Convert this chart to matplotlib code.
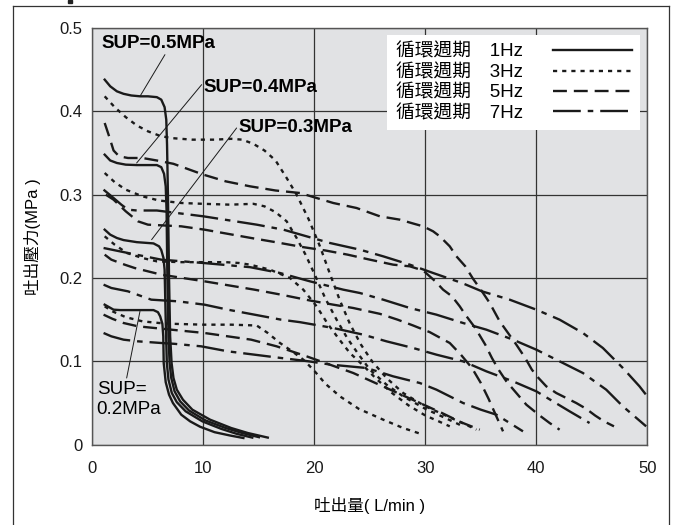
import matplotlib
matplotlib.use('Agg')
import matplotlib.pyplot as plt
from matplotlib.lines import Line2D
from matplotlib.patches import Rectangle

#fonts: latin text in an Arial-like face, chinese falls back to Noto CJK
plt.rcParams['font.family'] = ['Liberation Sans', 'Noto Sans CJK TC']
plt.rcParams['lines.scale_dashes'] = False

#cycle frequencies (legend) and supply pressures (annotations)
freq_labels = ['1Hz', '3Hz', '5Hz', '7Hz']
sup_labels = ['SUP=0.5MPa', 'SUP=0.4MPa', 'SUP=0.3MPa', 'SUP=\n0.2MPa']

#discharge flow (L/min) and discharge pressure (MPa)
#1Hz (solid)
flow_05_1hz = [1.1, 1.6, 2.2, 2.8, 3.5, 4.3, 5.0, 5.8, 6.2, 6.5, 6.65, 6.72, 6.8, 6.9, 7.0, 7.13, 7.3, 7.6, 8.15, 9.0, 10.6, 12.5, 14.0, 15.8]
pres_05_1hz = [0.438, 0.430, 0.424, 0.421, 0.419, 0.418, 0.418, 0.417, 0.414, 0.405, 0.39, 0.36, 0.30, 0.20, 0.13, 0.098, 0.08, 0.066, 0.054, 0.042, 0.030, 0.020, 0.014, 0.0085]
flow_04_1hz = [1.1, 1.6, 2.2, 3.0, 4.0, 5.0, 5.8, 6.2, 6.45, 6.6, 6.68, 6.75, 6.85, 6.95, 7.1, 7.4, 7.9, 8.7, 10.2, 12.0, 13.5, 15.0]
pres_04_1hz = [0.348, 0.341, 0.338, 0.336, 0.3355, 0.3355, 0.3355, 0.333, 0.325, 0.31, 0.28, 0.20, 0.13, 0.098, 0.08, 0.064, 0.052, 0.041, 0.029, 0.020, 0.014, 0.009]
flow_03_1hz = [1.1, 1.6, 2.2, 2.8, 4.0, 5.5, 6.0, 6.2, 6.4, 6.5, 6.6, 6.7, 6.85, 7.15, 7.6, 8.4, 9.9, 11.6, 13.0, 14.4]
pres_03_1hz = [0.258, 0.252, 0.248, 0.2455, 0.243, 0.2415, 0.238, 0.2335, 0.224, 0.21, 0.15, 0.098, 0.078, 0.062, 0.051, 0.040, 0.028, 0.019, 0.013, 0.0085]
flow_02_1hz = [1.1, 1.5, 1.9, 2.5, 3.5, 4.5, 5.5, 5.9, 6.1, 6.3, 6.38, 6.42, 6.6, 6.9, 7.25, 8.0, 8.8, 9.7, 11.0, 12.4, 13.6]
pres_02_1hz = [0.168, 0.165, 0.162, 0.1615, 0.1615, 0.1615, 0.1615, 0.159, 0.154, 0.145, 0.13, 0.098, 0.075, 0.060, 0.050, 0.036, 0.028, 0.0215, 0.015, 0.011, 0.008]

#3Hz (dotted)
flow_05_3hz = [1.1, 2.0, 3.0, 4.0, 5.0, 6.0, 7.0, 9.0, 11.0, 12.5, 13.5, 14.5, 15.5, 16.5, 17.5, 18.4, 19.5, 20.5, 21.4, 22.3, 23.2, 24.2, 25.2, 26.5, 28.0, 30.0, 32.0, 33.5, 34.6]
pres_05_3hz = [0.418, 0.405, 0.393, 0.383, 0.376, 0.371, 0.368, 0.366, 0.366, 0.367, 0.366, 0.361, 0.353, 0.341, 0.32, 0.30, 0.27, 0.238, 0.205, 0.173, 0.145, 0.12, 0.10, 0.08, 0.062, 0.046, 0.034, 0.025, 0.018]
flow_04_3hz = [1.1, 2.0, 3.0, 4.5, 6.0, 8.0, 10.0, 12.4, 14.5, 15.5, 16.5, 17.5, 18.4, 19.2, 20.0, 21.0, 22.0, 23.0, 24.0, 25.0, 26.5, 28.0, 30.0, 31.8, 33.4]
pres_04_3hz = [0.326, 0.315, 0.306, 0.298, 0.293, 0.290, 0.289, 0.288, 0.289, 0.286, 0.279, 0.268, 0.248, 0.228, 0.205, 0.175, 0.15, 0.127, 0.108, 0.09, 0.072, 0.058, 0.043, 0.032, 0.022]
flow_03_3hz = [1.1, 2.0, 3.1, 4.5, 5.8, 8.0, 10.0, 12.0, 13.2, 14.2, 16.0, 17.8, 19.0, 20.2, 21.2, 22.2, 23.2, 24.4, 25.5, 27.0, 28.5, 30.0, 31.2, 32.2]
pres_03_3hz = [0.25, 0.24, 0.23, 0.224, 0.22, 0.219, 0.219, 0.219, 0.218, 0.216, 0.21, 0.20, 0.186, 0.166, 0.145, 0.127, 0.11, 0.095, 0.08, 0.062, 0.047, 0.035, 0.028, 0.022]
flow_02_3hz = [1.1, 1.8, 3.0, 4.5, 6.0, 7.3, 10.0, 12.5, 14.8, 15.8, 16.9, 18.0, 19.0, 19.9, 21.0, 22.3, 24.0, 26.2, 28.0, 29.8]
pres_02_3hz = [0.166, 0.16, 0.153, 0.148, 0.146, 0.145, 0.144, 0.144, 0.143, 0.134, 0.122, 0.112, 0.102, 0.09, 0.073, 0.058, 0.043, 0.03, 0.02, 0.012]

#5Hz (dashed)
flow_05_5hz = [1.1, 1.5, 1.9, 2.4, 3.2, 4.5, 5.8, 7.3, 10.0, 12.0, 14.2, 16.5, 18.7, 21.7, 23.8, 25.9, 27.7, 29.0, 29.8, 30.7, 31.3, 32.2, 32.8, 33.6, 34.3, 35.0, 35.8, 36.7, 37.4, 38.2, 39.0, 39.6, 40.2, 40.9, 41.8, 42.7, 43.6, 44.5, 45.3, 46.1, 47.0]
pres_05_5hz = [0.386, 0.37, 0.353, 0.346, 0.344, 0.344, 0.341, 0.337, 0.324, 0.316, 0.31, 0.305, 0.302, 0.29, 0.284, 0.274, 0.27, 0.265, 0.262, 0.256, 0.25, 0.238, 0.226, 0.214, 0.199, 0.186, 0.17, 0.148, 0.135, 0.12, 0.104, 0.09, 0.08, 0.07, 0.062, 0.056, 0.05, 0.043, 0.035, 0.028, 0.022]
flow_04_5hz = [1.2, 1.9, 3.0, 4.1, 5.0, 8.0, 10.1, 12.2, 14.3, 16.5, 19.0, 21.0, 23.0, 25.0, 27.1, 28.6, 29.8, 30.9, 31.6, 32.4, 33.1, 33.6, 34.5, 35.4, 36.0, 36.6, 37.3, 38.2, 39.1, 40.3, 41.2, 42.1]
pres_04_5hz = [0.30, 0.294, 0.28, 0.268, 0.264, 0.262, 0.258, 0.253, 0.248, 0.243, 0.237, 0.233, 0.228, 0.222, 0.216, 0.214, 0.209, 0.196, 0.186, 0.178, 0.166, 0.156, 0.14, 0.12, 0.104, 0.09, 0.076, 0.062, 0.048, 0.035, 0.026, 0.018]
flow_03_5hz = [1.1, 1.7, 2.9, 3.8, 6.2, 10.1, 14.6, 17.0, 19.6, 21.7, 23.5, 25.9, 27.5, 28.9, 30.4, 32.2, 33.2, 34.2, 35.0, 35.7, 36.3, 37.0]
pres_03_5hz = [0.228, 0.222, 0.216, 0.212, 0.204, 0.196, 0.186, 0.18, 0.173, 0.168, 0.164, 0.157, 0.15, 0.143, 0.135, 0.122, 0.108, 0.092, 0.074, 0.055, 0.037, 0.016]
flow_02_5hz = [1.0, 1.8, 2.8, 4.1, 7.1, 10.1, 12.2, 14.3, 16.6, 19.3, 21.4, 23.5, 25.5, 27.5, 29.5, 31.5, 33.2, 34.9]
pres_02_5hz = [0.156, 0.151, 0.146, 0.142, 0.138, 0.134, 0.130, 0.126, 0.118, 0.106, 0.096, 0.086, 0.074, 0.062, 0.050, 0.038, 0.027, 0.018]

#7Hz (dash-dot)
flow_05_7hz = [1.0, 1.9, 2.6, 3.2, 4.0, 5.8, 7.6, 10.0, 12.4, 14.8, 17.2, 19.3, 21.4, 24.1, 26.2, 28.6, 30.7, 33.3, 35.1, 37.6, 40.0, 42.1, 44.2, 46.0, 47.8, 49.3, 50.0]
pres_05_7hz = [0.306, 0.296, 0.288, 0.282, 0.281, 0.281, 0.278, 0.274, 0.269, 0.264, 0.258, 0.25, 0.242, 0.234, 0.226, 0.216, 0.206, 0.194, 0.184, 0.174, 0.162, 0.15, 0.134, 0.116, 0.092, 0.07, 0.058]
flow_04_7hz = [1.0, 3.2, 6.2, 10.0, 14.2, 16.9, 19.6, 22.6, 24.1, 26.2, 28.6, 31.0, 33.4, 35.5, 37.9, 40.0, 42.1, 44.2, 46.3, 47.8, 49.9]
pres_04_7hz = [0.236, 0.23, 0.222, 0.218, 0.213, 0.206, 0.196, 0.186, 0.182, 0.174, 0.164, 0.156, 0.146, 0.138, 0.126, 0.114, 0.10, 0.086, 0.066, 0.046, 0.022]
flow_03_7hz = [1.0, 1.7, 3.2, 5.3, 7.7, 10.1, 12.2, 14.6, 17.0, 18.7, 21.7, 24.4, 26.5, 28.9, 31.0, 33.4, 35.5, 37.9, 40.0, 41.5, 43.0, 44.8]
pres_03_7hz = [0.192, 0.188, 0.184, 0.174, 0.172, 0.168, 0.162, 0.156, 0.15, 0.147, 0.14, 0.132, 0.124, 0.116, 0.108, 0.10, 0.088, 0.076, 0.064, 0.052, 0.04, 0.026]
flow_02_7hz = [1.0, 1.7, 2.8, 4.1, 6.2, 7.4, 9.8, 12.2, 14.6, 17.0, 19.5, 21.5, 24.7, 27.1, 29.5, 31.0, 33.4, 35.0, 36.4, 37.6, 38.8]
pres_02_7hz = [0.134, 0.13, 0.126, 0.124, 0.122, 0.121, 0.118, 0.112, 0.108, 0.104, 0.10, 0.096, 0.092, 0.082, 0.074, 0.066, 0.05, 0.042, 0.036, 0.026, 0.016]

#tick values
x_ticks = [0, 10, 20, 30, 40, 50]
y_ticks = [0, 0.1, 0.2, 0.3, 0.4, 0.5]
y_tick_labels = ['0', '0.1', '0.2', '0.3', '0.4', '0.5']

line_color = '#1a1a1a'
styles = {
    '1Hz': '-',
    '3Hz': (0, (3.0, 3.6)),
    '5Hz': (0, (10, 5)),
    '7Hz': (0, (20, 5, 4, 5)),
}

curves = {
    '1Hz': [(flow_05_1hz, pres_05_1hz), (flow_04_1hz, pres_04_1hz), (flow_03_1hz, pres_03_1hz), (flow_02_1hz, pres_02_1hz)],
    '3Hz': [(flow_05_3hz, pres_05_3hz), (flow_04_3hz, pres_04_3hz), (flow_03_3hz, pres_03_3hz), (flow_02_3hz, pres_02_3hz)],
    '5Hz': [(flow_05_5hz, pres_05_5hz), (flow_04_5hz, pres_04_5hz), (flow_03_5hz, pres_03_5hz), (flow_02_5hz, pres_02_5hz)],
    '7Hz': [(flow_05_7hz, pres_05_7hz), (flow_04_7hz, pres_04_7hz), (flow_03_7hz, pres_03_7hz), (flow_02_7hz, pres_02_7hz)],
}

fig = plt.figure(figsize=(6.76, 5.25), dpi=100)
ax = fig.add_axes([0.1368, 0.1530, 0.8207, 0.7937])
ax.set_facecolor('#e1e2e4')

#draw the curves, keep one line per frequency for the legend
handles = []
for f in freq_labels:
    first = None
    for flow, pres in curves[f]:
        ln, = ax.plot(flow, pres, color=line_color, lw=1.7,
                      linestyle=styles[f], zorder=3)
        if first is None:
            first = ln
    handles.append(first)

ax.set_xlim(0, 50)
ax.set_ylim(0, 0.5)
ax.set_xticks(x_ticks)
ax.set_yticks(y_ticks)
ax.set_yticklabels(y_tick_labels)
ax.tick_params(length=0, labelsize=12, colors='#1a1a1a')
ax.tick_params(axis='x', pad=12)
ax.tick_params(axis='y', pad=7)
ax.grid(True, color='#333333', lw=0.9)
ax.set_axisbelow(True)
for s in ax.spines.values():
    s.set_color('#555555')
    s.set_linewidth(1.0)

ax.set_xlabel('吐出量( L/min )', fontsize=12, va='center')
ax.xaxis.set_label_coords(0.5, -0.145)
ax.set_ylabel('吐出壓力(MPa )', fontsize=12, va='center')
ax.yaxis.set_label_coords(-0.109, 0.5)

#supply pressure annotations with thin leader lines
ax.text(0.83, 0.4817, sup_labels[0], fontsize=13.5, fontweight='bold', va='center')
ax.annotate('', xy=(4.28, 0.418), xytext=(6.53, 0.468),
            arrowprops=dict(arrowstyle='-', lw=0.7, color=line_color, shrinkA=0, shrinkB=0))
ax.text(9.98, 0.4287, sup_labels[1], fontsize=13.5, fontweight='bold', va='center')
ax.annotate('', xy=(3.98, 0.338), xytext=(9.84, 0.432),
            arrowprops=dict(arrowstyle='-', lw=0.7, color=line_color, shrinkA=0, shrinkB=0))
ax.text(13.14, 0.3807, sup_labels[2], fontsize=13.5, fontweight='bold', va='center')
ax.annotate('', xy=(5.33, 0.246), xytext=(12.99, 0.380),
            arrowprops=dict(arrowstyle='-', lw=0.7, color=line_color, shrinkA=0, shrinkB=0))
ax.text(0.38, 0.0542, sup_labels[3], fontsize=13.5, va='center', linespacing=1.25)
ax.annotate('', xy=(4.28, 0.160), xytext=(3.08, 0.080),
            arrowprops=dict(arrowstyle='-', lw=0.7, color=line_color, shrinkA=0, shrinkB=0))

#legend: text first, line sample on the right
leg = ax.legend(handles, ['循環週期\u3000' + f for f in freq_labels],
                loc='upper right', bbox_to_anchor=(0.987, 0.983), borderaxespad=0,
                markerfirst=False, fancybox=False, frameon=True, framealpha=1,
                facecolor='white', edgecolor='none', fontsize=13.5,
                handlelength=4.2, handletextpad=1.6, labelspacing=0.17, borderpad=0.45)
leg.set_zorder(5)

#outer frame of the figure
fig.add_artist(Line2D([0.0188, 0.9901], [0.9886, 0.9886], color='#333333', lw=0.9))
fig.add_artist(Line2D([0.0188, 0.0188], [0.0, 0.9886], color='#333333', lw=0.9))
fig.add_artist(Line2D([0.9901, 0.9901], [0.0, 0.9886], color='#333333', lw=0.9))
fig.add_artist(Rectangle((68 / 676, 1 - 3 / 525), 4 / 676, 3 / 525, color='#222222'))

fig.savefig('out.png', dpi=100)
